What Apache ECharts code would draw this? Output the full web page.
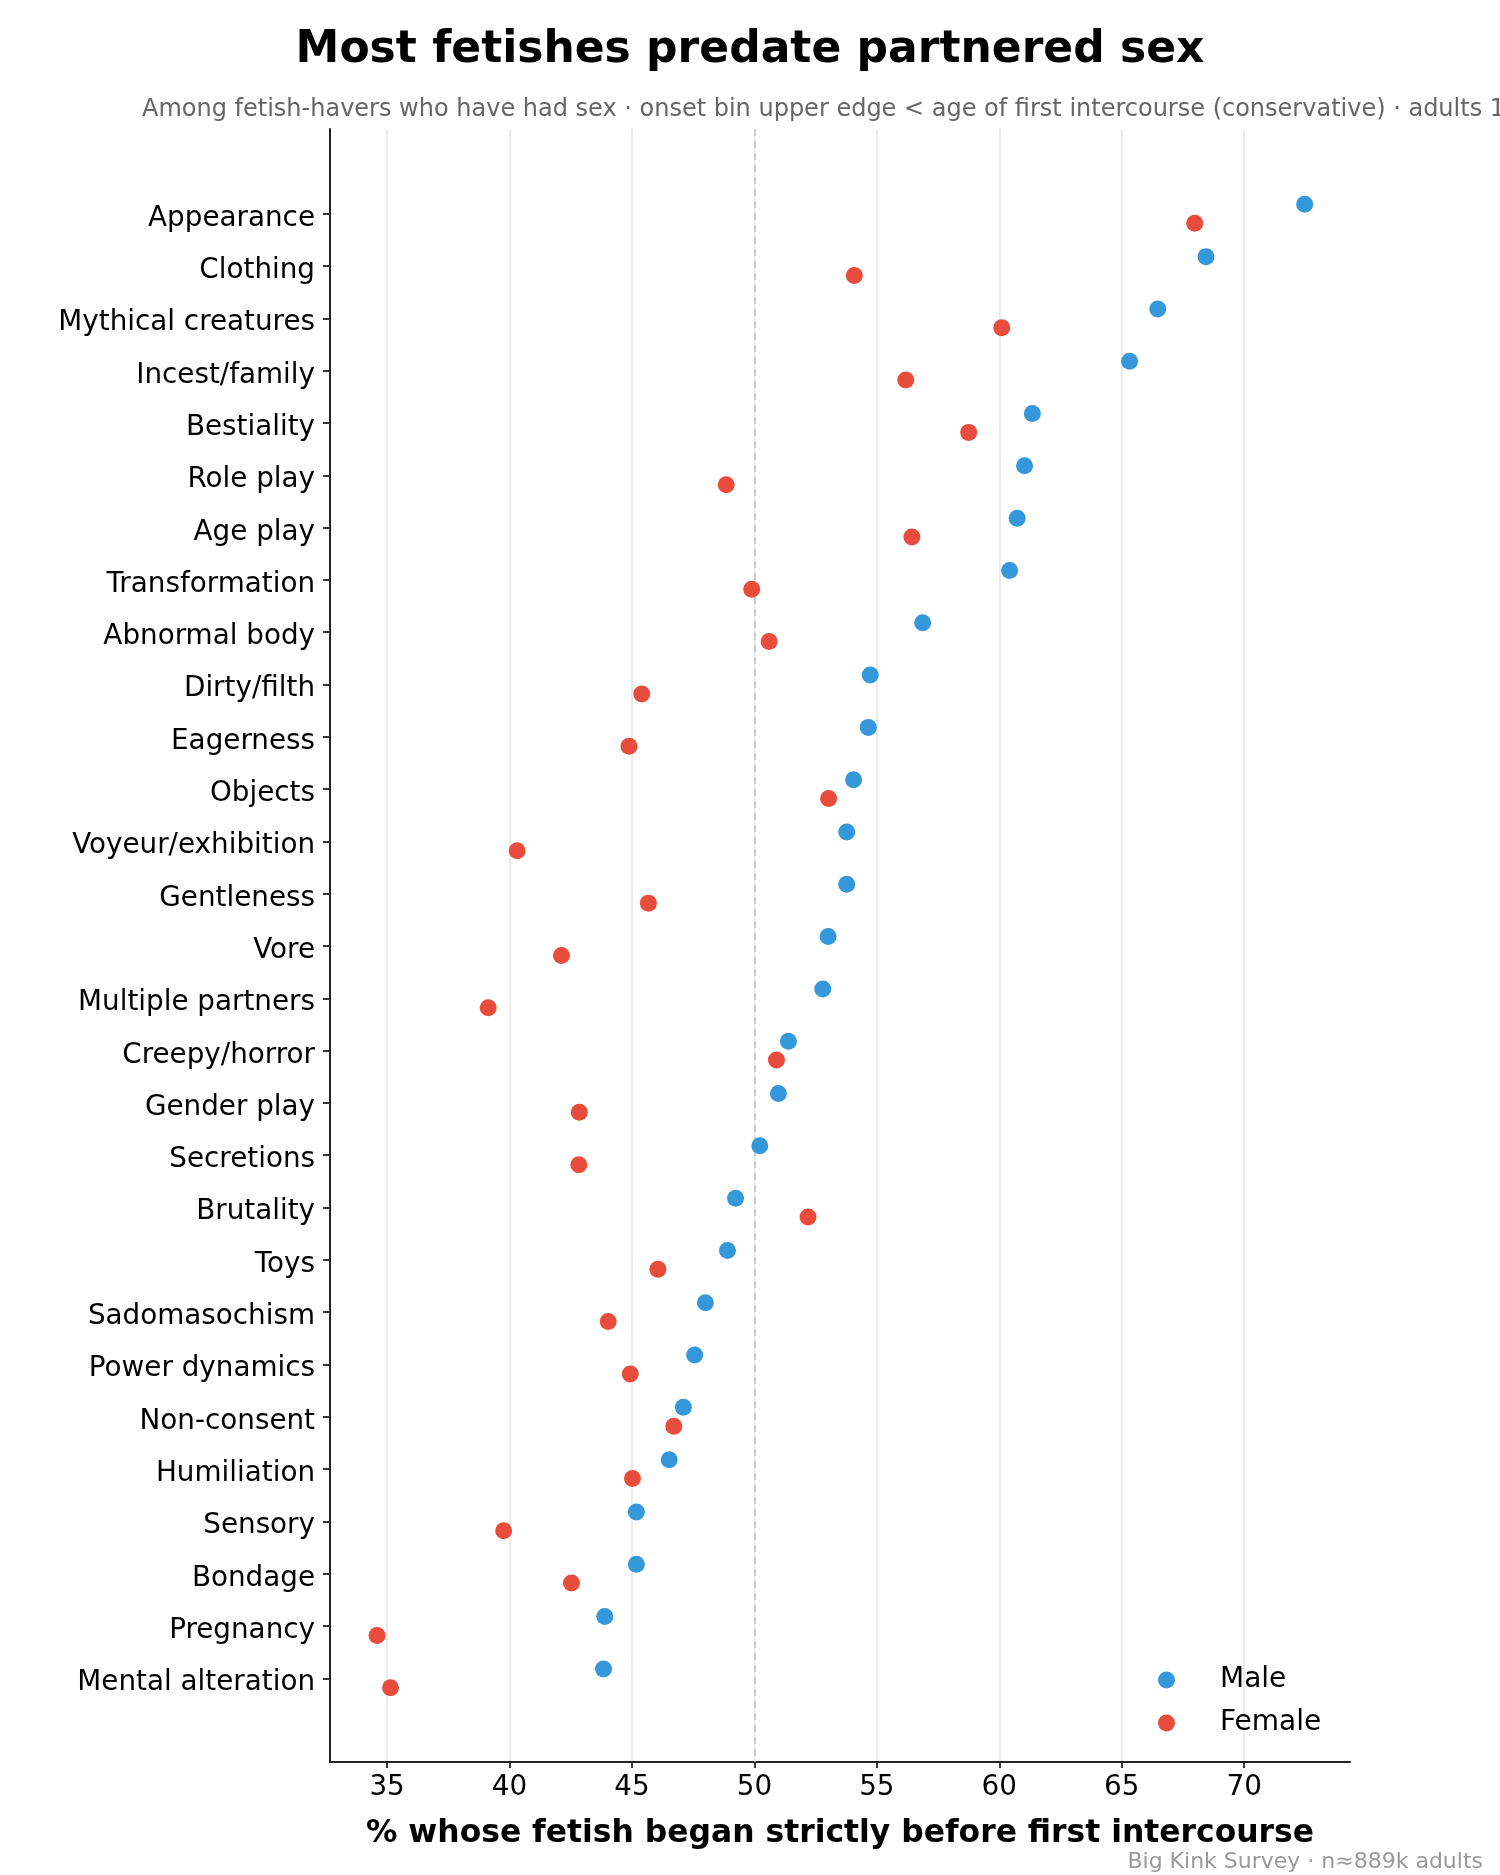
<!DOCTYPE html>
<html>
<head>
<meta charset="utf-8">
<script src="https://cdn.jsdelivr.net/npm/echarts@6/dist/echarts.min.js"></script>
<style>
  html, body { margin: 0; padding: 0; background: #fff; }
  #chart { width: 1500px; height: 1875px; }
</style>
</head>
<body>
<div id="chart"></div>
<script>
// categories, top to bottom
const categories = [
  'Appearance', 'Clothing', 'Mythical creatures', 'Incest/family', 'Bestiality',
  'Role play', 'Age play', 'Transformation', 'Abnormal body', 'Dirty/filth',
  'Eagerness', 'Objects', 'Voyeur/exhibition', 'Gentleness', 'Vore',
  'Multiple partners', 'Creepy/horror', 'Gender play', 'Secretions', 'Brutality',
  'Toys', 'Sadomasochism', 'Power dynamics', 'Non-consent', 'Humiliation',
  'Sensory', 'Bondage', 'Pregnancy', 'Mental alteration'
]
const maleValues = [
  72.47, 68.44, 66.47, 65.32, 61.35, 61.03, 60.73, 60.42, 56.87, 54.73,
  54.65, 54.05, 53.77, 53.77, 53.01, 52.79, 51.39, 50.98, 50.22, 49.23,
  48.90, 48.00, 47.56, 47.10, 46.52, 45.18, 45.18, 43.89, 43.84
]
const femaleValues = [
  67.98, 54.08, 60.10, 56.18, 58.75, 48.85, 56.43, 49.89, 50.60, 45.40,
  44.88, 53.03, 40.31, 45.67, 42.12, 39.13, 50.90, 42.85, 42.83, 52.19,
  46.06, 44.03, 44.93, 46.71, 45.02, 39.76, 42.53, 34.59, 35.14
]
const xTicks = [35, 40, 45, 50, 55, 60, 65, 70]

const FONT = 'DejaVu Sans'
const offset = 0.18
// text sits a touch below its tick, like the original
const labelNudge = 0.09

const myChart = echarts.init(document.getElementById('chart'))
const option = {
  backgroundColor: '#fff',
  animation: false,
  textStyle: { fontFamily: FONT },
  grid: { left: 330, right: 150, top: 129, bottom: 113, containLabel: false },
  legend: {
    orient: 'vertical',
    left: 1158,
    top: 1666,
    padding: 0,
    itemGap: 15,
    itemWidth: 17,
    itemHeight: 17,
    icon: 'circle',
    textStyle: { fontSize: 28, color: '#000', fontFamily: FONT, padding: [0, 0, 0, 40] },
    data: ['Male', 'Female']
  },
  graphic: [
    {
      type: 'text', left: 'center', top: 29,
      style: { text: 'Most fetishes predate partnered sex', fontSize: 44, fontWeight: 'bold', fontFamily: FONT, fill: '#000' }
    },
    {
      type: 'text', x: 142, y: 110,
      style: {
        text: 'Among fetish-havers who have had sex · onset bin upper edge < age of first intercourse (conservative) · adults 18+',
        fontSize: 24, fontFamily: FONT, fill: '#666', verticalAlign: 'middle'
      }
    },
    {
      type: 'text', x: 1483, y: 1862,
      style: {
        text: 'Big Kink Survey · n≈889k adults',
        fontSize: 22, fontFamily: FONT, fill: '#999', align: 'right', verticalAlign: 'middle'
      }
    }
  ],
  xAxis: {
    type: 'value',
    min: 32.67,
    max: 74.32,
    name: '% whose fetish began strictly before first intercourse',
    nameLocation: 'middle',
    nameGap: 56,
    nameTextStyle: { fontSize: 31.4, fontWeight: 'bold', color: '#000', fontFamily: FONT },
    axisLine: { show: true, onZero: false, lineStyle: { color: '#222', width: 2 } },
    axisTick: { show: true, length: 6, lineStyle: { color: '#222', width: 1.8 }, customValues: xTicks },
    axisLabel: { fontSize: 27.8, color: '#000', margin: 12, customValues: xTicks, fontFamily: FONT },
    splitLine: { show: true, lineStyle: { color: '#e6e6e6', width: 1.6 } }
  },
  yAxis: {
    type: 'value',
    inverse: true,
    min: -1.62,
    max: 29.6,
    axisLine: { show: true, onZero: false, lineStyle: { color: '#222', width: 2 } },
    axisTick: { show: true, length: 7, lineStyle: { color: '#222', width: 1.8 }, customValues: categories.map((c, i) => i) },
    axisLabel: {
      fontSize: 27.8, color: '#000', margin: 15, fontFamily: FONT,
      customValues: categories.map((c, i) => i + labelNudge),
      formatter: (v) => categories[Math.round(v)]
    },
    splitLine: { show: false }
  },
  series: [
    {
      name: 'Male',
      type: 'scatter',
      symbolSize: 17,
      itemStyle: { color: '#3498db', opacity: 1 },
      data: maleValues.map((v, i) => [v, i - offset]),
      markLine: {
        silent: true,
        symbol: 'none',
        label: { show: false },
        lineStyle: { color: '#c4c4c4', type: [7, 5], width: 1.6 },
        data: [{ xAxis: 50 }],
        z: 1
      },
      z: 3
    },
    {
      name: 'Female',
      type: 'scatter',
      symbolSize: 17,
      itemStyle: { color: '#e74c3c', opacity: 1 },
      data: femaleValues.map((v, i) => [v, i + offset]),
      z: 3
    }
  ]
}
option && myChart.setOption(option)
</script>
</body>
</html>
